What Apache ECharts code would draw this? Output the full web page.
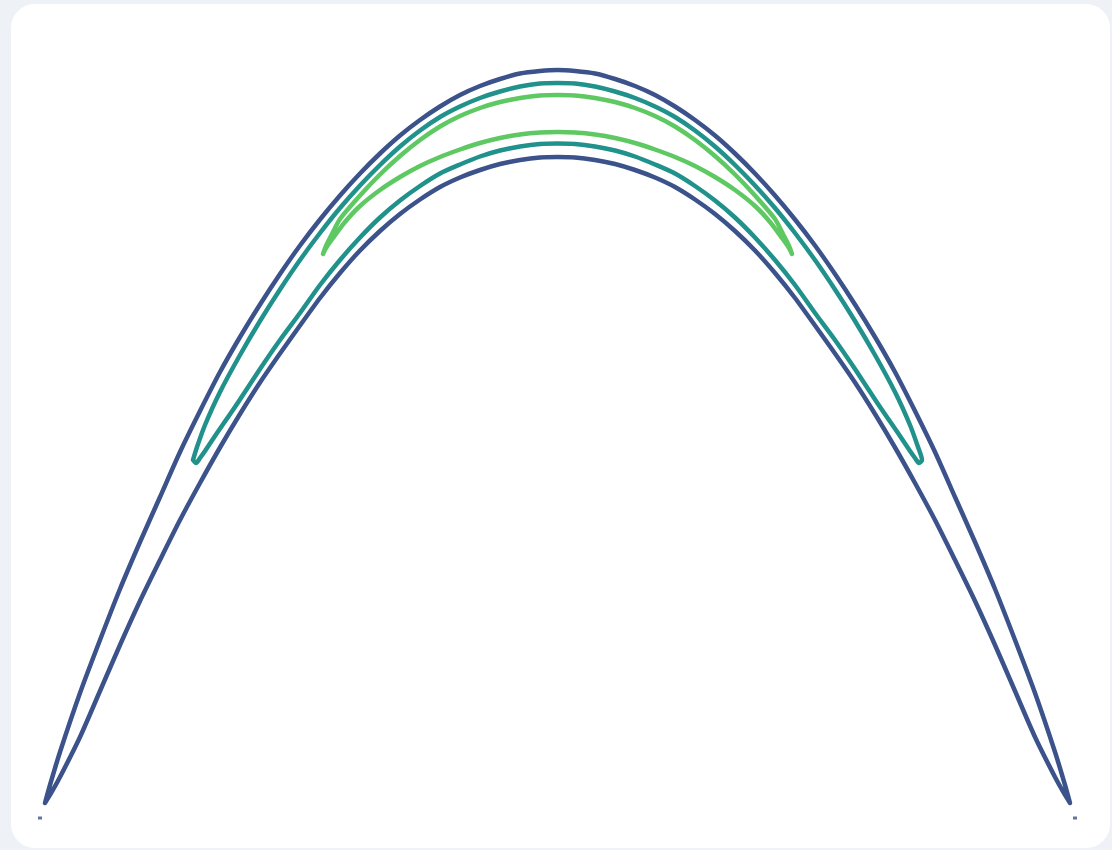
<!DOCTYPE html>
<html>
<head>
<meta charset="utf-8">
<script src="https://cdn.jsdelivr.net/npm/echarts@6/dist/echarts.min.js"></script>
<style>
  html, body { margin: 0; padding: 0; width: 1112px; height: 850px; background: #eef2f6; overflow: hidden; }
  #card { position: absolute; left: 11px; top: 4px; width: 1099px; height: 844px; background: #ffffff; border-radius: 24px; }
  #chart { position: absolute; left: 0; top: 0; width: 1112px; height: 850px; }
</style>
</head>
<body>
<div id="card"></div>
<div id="chart"></div>
<script>
// Contour levels of a density concentrated along an arch; each level is one closed loop,
// given here as its outer (upper) edge and its inner (lower) edge, both from left to right.
const levelNames = ['level 1', 'level 2', 'level 3'];
const levelColors = ['#3b528b', '#21918c', '#5ec962'];

const level1Outer = [
  [-102.5, 3.4], [-101.5, 7.0], [-99.5, 13.6], [-95.5, 25.4], [-91.5, 36.0], [-87.5, 46.2],
  [-83.5, 55.6], [-79.5, 64.6], [-75.5, 73.6], [-71.5, 81.8], [-67.5, 89.6], [-63.5, 96.6],
  [-59.5, 103.1], [-55.5, 109.2], [-51.5, 114.9], [-47.5, 120.1], [-43.5, 124.9], [-39.5, 129.3],
  [-35.5, 133.3], [-31.5, 136.9], [-27.5, 140.0], [-23.5, 142.7], [-19.5, 145.0], [-15.5, 146.8],
  [-11.5, 148.2], [-7.5, 149.3], [-3.5, 149.8], [0, 150.0], [3.5, 149.8], [7.5, 149.3],
  [11.5, 148.2], [15.5, 146.8], [19.5, 145.0], [23.5, 142.7], [27.5, 140.0], [31.5, 136.9],
  [35.5, 133.3], [39.5, 129.3], [43.5, 124.9], [47.5, 120.1], [51.5, 114.9], [55.5, 109.2],
  [59.5, 103.1], [63.5, 96.6], [67.5, 89.6], [71.5, 81.8], [75.5, 73.6], [79.5, 64.6],
  [83.5, 55.6], [87.5, 46.2], [91.5, 36.0], [95.5, 25.4], [99.5, 13.6], [101.5, 7.0], [102.5, 3.4]
];
const level1Inner = [
  [-101.5, 5.0], [-99.5, 8.6], [-95.5, 16.6], [-91.5, 25.8], [-87.5, 35.0], [-83.5, 43.8],
  [-79.5, 52.0], [-75.5, 60.0], [-71.5, 67.4], [-67.5, 74.5], [-63.5, 81.2], [-59.5, 87.5],
  [-55.5, 93.3], [-51.5, 98.9], [-47.5, 104.4], [-43.5, 109.4], [-39.5, 113.9], [-35.5, 117.8],
  [-31.5, 121.2], [-27.5, 124.1], [-23.5, 126.6], [-19.5, 128.5], [-15.5, 130.0], [-11.5, 131.2],
  [-7.5, 132.0], [-3.5, 132.5], [0, 132.6], [3.5, 132.5], [7.5, 132.0], [11.5, 131.2],
  [15.5, 130.0], [19.5, 128.5], [23.5, 126.6], [27.5, 124.1], [31.5, 121.2], [35.5, 117.8],
  [39.5, 113.9], [43.5, 109.4], [47.5, 104.4], [51.5, 98.9], [55.5, 93.3], [59.5, 87.5],
  [63.5, 81.2], [67.5, 74.5], [71.5, 67.4], [75.5, 60.0], [79.5, 52.0], [83.5, 43.8],
  [87.5, 35.0], [91.5, 25.8], [95.5, 16.6], [99.5, 8.6], [101.5, 5.0]
];

const level2Outer = [
  [-72.9, 72.0], [-72.1, 74.6], [-70.5, 79.0], [-67.5, 85.6], [-63.5, 93.0], [-59.5, 99.8],
  [-55.5, 106.1], [-51.5, 112.0], [-47.5, 117.4], [-43.5, 122.4], [-39.5, 126.9], [-35.5, 131.0],
  [-31.5, 134.7], [-27.5, 137.9], [-23.5, 140.6], [-19.5, 142.7], [-15.5, 144.4], [-11.5, 145.7],
  [-7.5, 146.7], [-3.5, 147.3], [0, 147.4], [3.5, 147.3], [7.5, 146.7], [11.5, 145.7],
  [15.5, 144.4], [19.5, 142.7], [23.5, 140.6], [27.5, 137.9], [31.5, 134.7], [35.5, 131.0],
  [39.5, 126.9], [43.5, 122.4], [47.5, 117.4], [51.5, 112.0], [55.5, 106.1], [59.5, 99.8],
  [63.5, 93.0], [67.5, 85.6], [70.5, 79.0], [72.1, 74.6], [72.9, 72.0]
];
const level2Inner = [
  [-72.3, 71.4], [-71.5, 72.4], [-70.5, 73.8], [-68.5, 76.8], [-64.1, 83.2], [-59.5, 90.2],
  [-55.5, 96.0], [-51.5, 101.4], [-47.5, 107.0], [-43.5, 112.0], [-39.5, 116.5], [-35.5, 120.5],
  [-31.5, 123.9], [-27.5, 126.8], [-23.5, 129.3], [-19.5, 131.1], [-15.5, 132.7], [-11.5, 133.9],
  [-7.5, 134.7], [-3.5, 135.2], [0, 135.3], [3.5, 135.2], [7.5, 134.7], [11.5, 133.9],
  [15.5, 132.7], [19.5, 131.1], [23.5, 129.3], [27.5, 126.8], [31.5, 123.9], [35.5, 120.5],
  [39.5, 116.5], [43.5, 112.0], [47.5, 107.0], [51.5, 101.4], [55.5, 96.0], [59.5, 90.2],
  [64.1, 83.2], [68.5, 76.8], [70.5, 73.8], [71.5, 72.4], [72.3, 71.4]
];

const level3Outer = [
  [-46.9, 113.2], [-46.3, 114.8], [-45.3, 116.8], [-43.5, 120.2], [-39.5, 124.9], [-35.5, 129.1],
  [-31.5, 132.8], [-27.5, 136.0], [-23.5, 138.7], [-19.5, 140.8], [-15.5, 142.4], [-11.5, 143.6],
  [-7.5, 144.4], [-3.5, 144.9], [0, 145.0], [3.5, 144.9], [7.5, 144.4], [11.5, 143.6],
  [15.5, 142.4], [19.5, 140.8], [23.5, 138.7], [27.5, 136.0], [31.5, 132.8], [35.5, 129.1],
  [39.5, 124.9], [43.5, 120.2], [45.3, 116.8], [46.3, 114.8], [46.9, 113.2]
];
const level3Inner = [
  [-46.3, 114.4], [-44.9, 116.4], [-42.5, 119.6], [-39.5, 122.8], [-35.5, 126.0], [-31.5, 128.6],
  [-27.5, 130.8], [-23.5, 132.6], [-19.5, 134.1], [-15.5, 135.4], [-11.5, 136.4], [-7.5, 137.1],
  [-3.5, 137.5], [0, 137.6], [3.5, 137.5], [7.5, 137.1], [11.5, 136.4], [15.5, 135.4],
  [19.5, 134.1], [23.5, 132.6], [27.5, 130.8], [31.5, 128.6], [35.5, 126.0], [39.5, 122.8],
  [42.5, 119.6], [44.9, 116.4], [46.3, 114.4]
];

// Tiny isolated fragments of the lowest level next to the two feet of the arch.
const level1Fragments = [[-103.5, 0.4], [103.5, 0.4]];

// A closed loop: along the outer edge, back along the inner edge, then to the start.
function closedLoop(outer, inner) {
  return outer.concat(inner.slice().reverse(), [outer[0]]);
}

const contours = [
  closedLoop(level1Outer, level1Inner),
  closedLoop(level2Outer, level2Inner),
  closedLoop(level3Outer, level3Inner)
];

const chart = echarts.init(document.getElementById('chart'), null, { renderer: 'canvas' });

const series = contours.map(function (pts, i) {
  return {
    name: levelNames[i],
    type: 'line',
    data: pts,
    smooth: 0.25,
    symbol: 'none',
    clip: false,
    silent: true,
    lineStyle: { width: 4.5, color: levelColors[i], cap: 'round', join: 'round' },
    z: 2 + i
  };
});

series.push({
  name: levelNames[0],
  type: 'scatter',
  data: level1Fragments,
  symbol: 'rect',
  symbolSize: [4, 3],
  silent: true,
  clip: false,
  itemStyle: { color: levelColors[0] }
});

chart.setOption({
  animation: false,
  backgroundColor: 'transparent',
  grid: { left: 32.5, right: 29.5, top: 45, bottom: 30 },
  xAxis: { type: 'value', min: -105, max: 105, show: false },
  yAxis: { type: 'value', min: 0, max: 155, show: false },
  tooltip: { show: false },
  series: series
});
</script>
</body>
</html>
